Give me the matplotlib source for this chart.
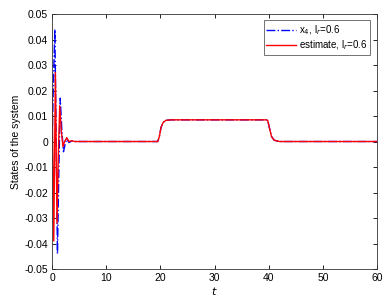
import matplotlib

matplotlib.use("Agg")
import matplotlib.pyplot as plt

plt.rcParams["font.family"] = ["Liberation Sans", "DejaVu Sans"]
plt.rcParams["axes.unicode_minus"] = False

# x4 (true state)
t_state = [0.0, 0.2, 0.5, 0.75, 0.98, 1.25, 1.5, 1.8, 2.1, 2.4, 2.7, 3.1, 3.6, 4.2, 5.0,
           19.5, 19.8, 20.1, 20.5, 21.0, 22.0, 39.5, 39.8, 40.1, 40.5, 41.0, 42.0, 60.0]
x4 = [0.0, 0.02, 0.044, 0.0, -0.044, -0.01, 0.017, 0.004, -0.004, -0.001, 0.0012, -0.0004, 0.0002, 0.0, 0.0,
      0.0, 0.002, 0.0055, 0.0075, 0.0083, 0.0085, 0.0085, 0.0083, 0.0055, 0.002, 0.0005, 0.0, 0.0]

# observer estimate
t_est = [0.0, 0.3, 0.6, 0.9, 1.15, 1.4, 1.7, 2.0, 2.3, 2.7, 3.1, 3.6, 4.2, 5.0,
         19.5, 19.8, 20.1, 20.5, 21.0, 22.0, 39.5, 39.8, 40.1, 40.5, 41.0, 42.0, 60.0]
x4_hat = [0.02, -0.039, 0.027, -0.032, -0.005, 0.014, 0.004, -0.002, 0.0, 0.0015, 0.0, 0.0003, 0.0, 0.0,
          0.0, 0.002, 0.0055, 0.0075, 0.0083, 0.0085, 0.0085, 0.0083, 0.0055, 0.002, 0.0005, 0.0, 0.0]

y_ticks = [0.05, 0.04, 0.03, 0.02, 0.01, 0.0, -0.01, -0.02, -0.03, -0.04, -0.05]
y_tick_labels = ["0.05", "0.04", "0.03", "0.02", "0.01", "0", "-0.01", "-0.02", "-0.03", "-0.04", "-0.05"]
x_ticks = [0, 10, 20, 30, 40, 50, 60]

fig = plt.figure(figsize=(3.92, 3.05), dpi=100)
ax = fig.add_axes([0.133, 0.118, 0.829, 0.836])

ax.plot(t_state, x4, color="#0000ff", linestyle="-.", linewidth=1.0, label=r"x$_4$, l$_r$=0.6")
ax.plot(t_est, x4_hat, color="#ff0000", linestyle="-", linewidth=1.0, label=r"estimate, l$_r$=0.6")

ax.set_xlim(0, 60)
ax.set_ylim(-0.05, 0.05)
ax.set_xticks(x_ticks)
ax.set_xticklabels([str(v) for v in x_ticks])
ax.set_yticks(y_ticks)
ax.set_yticklabels(y_tick_labels)
ax.tick_params(direction="in", top=True, right=True, labelsize=7.5, length=3, width=0.6, pad=3)
for spine in ax.spines.values():
    spine.set_linewidth(0.6)
    spine.set_color("#333333")

ax.set_xlabel(r"$t$", fontsize=8, labelpad=1)
ax.set_ylabel("States of the system", fontsize=7.5, labelpad=2)

legend = ax.legend(loc="upper right", bbox_to_anchor=(0.978, 0.975), fontsize=7, frameon=True,
                   fancybox=False, edgecolor="#333333", handlelength=3.0, borderaxespad=0.0,
                   borderpad=0.3, handletextpad=0.3, labelspacing=0.15)
legend.get_frame().set_linewidth(0.6)

fig.savefig("out.png", dpi=100)
